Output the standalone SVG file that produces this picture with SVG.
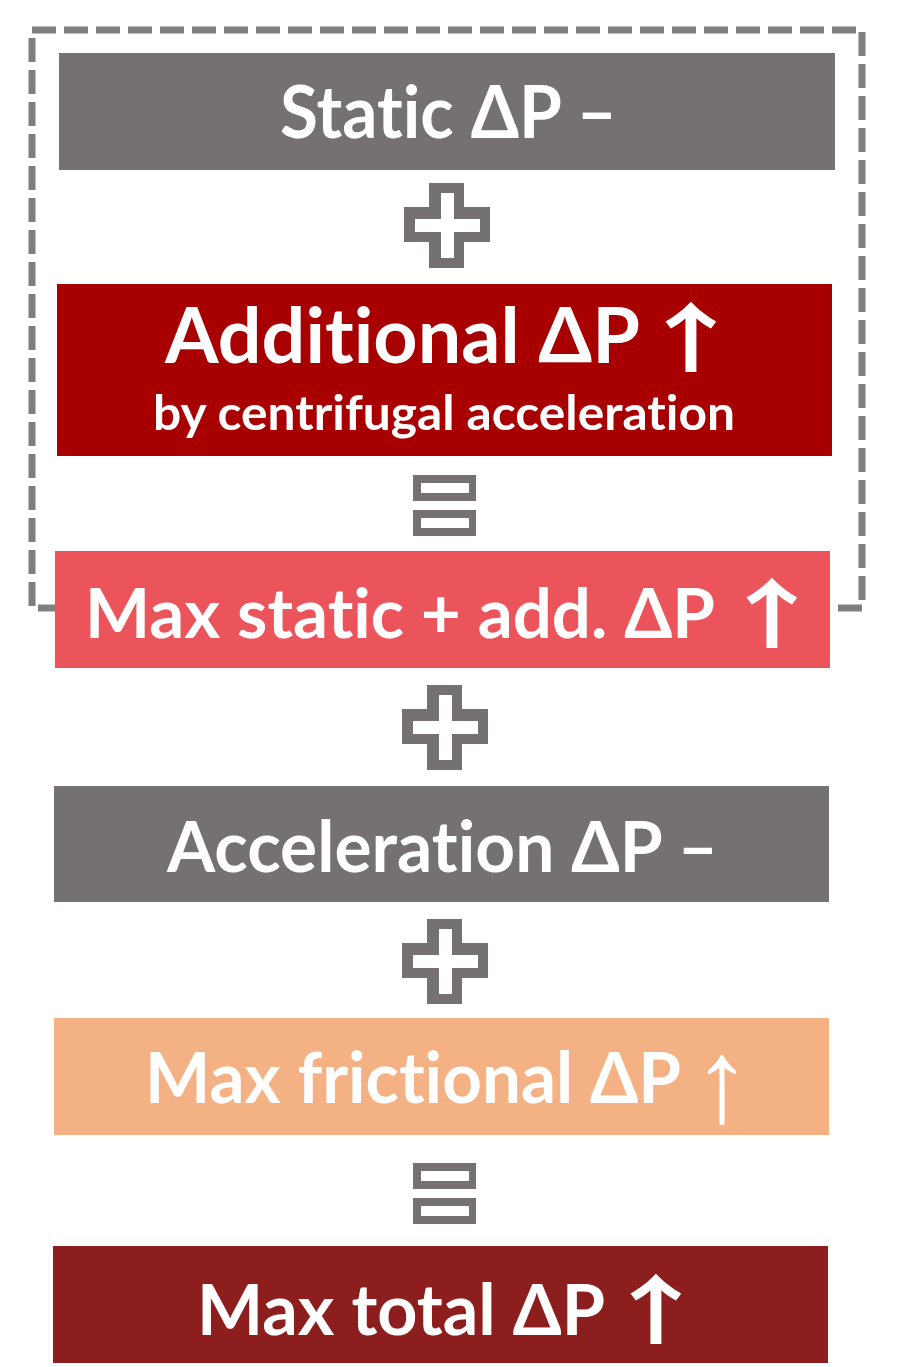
<svg xmlns="http://www.w3.org/2000/svg" width="903" height="1367" viewBox="0 0 903 1367">
<style>
.t{font-family:Lato,"Open Sans","DejaVu Sans",sans-serif;font-weight:700;fill:#fff;font-variant-ligatures:none;font-feature-settings:"liga" 0,"clig" 0}
.ar{font-family:"Noto Sans CJK JP","DejaVu Sans",sans-serif;font-weight:700;fill:#fff;text-anchor:middle;font-size:76px}
.op{fill:#767171}
.in{fill:#fff}
</style>
<defs>
<g id="plus">
<path class="op" d="M-18,-43h35v24h26v35h-26v26h-35v-26h-25v-35h25z"/>
<path class="in" d="M-6,-33h13v26h26v13h-26v26h-13v-26h-26v-13h26z"/>
</g>
<g id="eq">
<rect x="-34" y="-36" width="63" height="26" class="op"/>
<rect x="-26" y="-28" width="48" height="10" class="in"/>
<rect x="-34" y="-1" width="63" height="26" class="op"/>
<rect x="-26" y="7" width="48" height="10" class="in"/>
</g>
</defs>
<rect width="903" height="1367" fill="#fff"/>
<g id="connectors">
<rect x="32" y="30" width="830" height="578" fill="none" stroke="#7F7F7F" stroke-width="7" stroke-dasharray="24 8"/>
<use href="#plus" x="447" y="226"/>
<use href="#eq" x="447" y="511"/>
<use href="#plus" x="445" y="728"/>
<use href="#plus" x="445" y="962"/>
<use href="#eq" x="447" y="1199"/>
</g>
<g id="static">
<rect x="59" y="53" width="776" height="117" fill="#767171"/>
<text class="t" x="280" y="138" font-size="72" textLength="337" lengthAdjust="spacingAndGlyphs">Static ΔP –</text>
</g>
<g id="additional">
<rect x="57" y="284" width="775" height="172" fill="#A80000"/>
<text class="t" x="165" y="363" font-size="76" textLength="475" lengthAdjust="spacingAndGlyphs">Additional ΔP</text>
<text class="ar" transform="translate(691,366) scale(1.4,1)">↑</text>
<text class="t" x="153" y="430" font-size="47" textLength="582" lengthAdjust="spacingAndGlyphs">by centrifugal acceleration</text>
</g>
<g id="maxstatic">
<rect x="55" y="551" width="775" height="117" fill="#EB545A"/>
<text class="t" x="85" y="638" font-size="68" textLength="630" lengthAdjust="spacingAndGlyphs">Max static + add. ΔP</text>
<text class="ar" transform="translate(772,642) scale(1.4,1)">↑</text>
</g>
<g id="acceleration">
<rect x="54" y="786" width="775" height="116" fill="#767171"/>
<text class="t" x="167" y="872" font-size="71" textLength="551" lengthAdjust="spacingAndGlyphs">Acceleration ΔP –</text>
</g>
<g id="frictional">
<rect x="54" y="1018" width="775" height="117" fill="#F4B183"/>
<text class="t" x="145" y="1103" font-size="71" textLength="536" lengthAdjust="spacingAndGlyphs">Max frictional ΔP</text>
<text x="722" y="1121" font-size="118" font-family="'Liberation Sans',sans-serif" fill="#fff" text-anchor="middle">↑</text>
</g>
<g id="total">
<rect x="53" y="1246" width="775" height="117" fill="#8C1E1E"/>
<text class="t" x="197" y="1335" font-size="71" textLength="408" lengthAdjust="spacingAndGlyphs">Max total ΔP</text>
<text class="ar" transform="translate(656,1338) scale(1.4,1)">↑</text>
</g>
</svg>
